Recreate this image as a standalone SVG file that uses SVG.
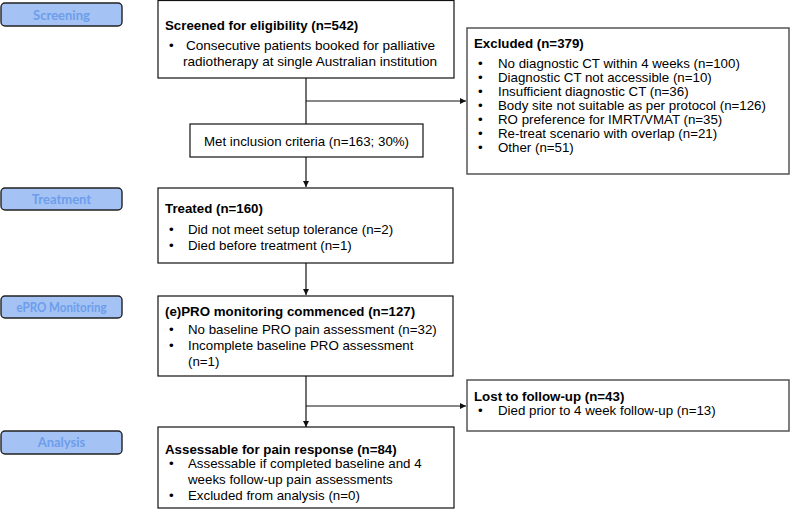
<svg xmlns="http://www.w3.org/2000/svg" width="790" height="509" viewBox="0 0 790 509">
<style>
.phase rect{fill:#a4c2f4;stroke:#222;stroke-width:1.4}
.phase text{font-family:Lato,"Open Sans",sans-serif;font-weight:bold;font-size:13px;fill:#6d9eeb;text-anchor:middle}
.box rect{fill:#fff;stroke:#111;stroke-width:1.2}
.gbox rect{fill:#fff;stroke:#555;stroke-width:1.5}
text{font-family:"Liberation Sans",Arial,sans-serif;font-size:13.3px;fill:#000}
.t{font-weight:bold}
.c{text-anchor:middle}
.s{font-size:13.6px}
.conn line{stroke:#111;stroke-width:1.2}
</style>
<defs>
<marker id="ah" markerWidth="8" markerHeight="8" refX="6" refY="3" orient="auto" markerUnits="userSpaceOnUse">
<path d="M0,0 L6,3 L0,6 Z" fill="#111"/>
</marker>
</defs>
<g id="phase-screening" class="phase"><rect x="1" y="3" width="121" height="23" rx="4"/><text x="61.5" y="19.5">Screening</text></g>
<g id="phase-treatment" class="phase"><rect x="1" y="188" width="121" height="22" rx="4"/><text x="61.5" y="203.5">Treatment</text></g>
<g id="phase-epro" class="phase"><rect x="1" y="296" width="121" height="22" rx="4"/><text x="61.5" y="311.5" textLength="90" lengthAdjust="spacingAndGlyphs">ePRO Monitoring</text></g>
<g id="phase-analysis" class="phase"><rect x="1" y="431" width="121" height="23" rx="4"/><text x="61.5" y="447">Analysis</text></g>

<g id="connectors" class="conn">
<line x1="306" y1="78" x2="306" y2="124"/>
<line x1="306" y1="101" x2="466" y2="101" marker-end="url(#ah)"/>
<line x1="306" y1="157" x2="306" y2="187" marker-end="url(#ah)"/>
<line x1="306" y1="263" x2="306" y2="295" marker-end="url(#ah)"/>
<line x1="306" y1="376" x2="306" y2="427" marker-end="url(#ah)"/>
<line x1="306" y1="406" x2="466" y2="406" marker-end="url(#ah)"/>
</g>

<g id="screened" class="box"><rect x="158" y="0.5" width="296" height="77.5"/>
<text x="165" y="30" class="t">Screened for eligibility (n=542)</text>
<text x="169" y="50">•</text><text x="186" y="50" class="s" textLength="249" lengthAdjust="spacing">Consecutive patients booked for palliative</text>
<text x="183" y="66" class="s" textLength="254" lengthAdjust="spacing">radiotherapy at single Australian institution</text></g>

<g id="met" class="box"><rect x="190" y="124" width="233" height="33"/>
<text x="306.5" y="145.5" class="c">Met inclusion criteria (n=163; 30%)</text></g>

<g id="excluded" class="gbox"><rect x="467" y="28" width="322" height="146"/>
<text x="474" y="48" class="t">Excluded (n=379)</text>
<text x="478" y="68">•</text><text x="498" y="68">No diagnostic CT within 4 weeks (n=100)</text>
<text x="478" y="82">•</text><text x="498" y="82">Diagnostic CT not accessible (n=10)</text>
<text x="478" y="96">•</text><text x="498" y="96">Insufficient diagnostic CT (n=36)</text>
<text x="478" y="110">•</text><text x="498" y="110">Body site not suitable as per protocol (n=126)</text>
<text x="478" y="124">•</text><text x="498" y="124">RO preference for IMRT/VMAT (n=35)</text>
<text x="478" y="138">•</text><text x="498" y="138">Re-treat scenario with overlap (n=21)</text>
<text x="478" y="152">•</text><text x="498" y="152">Other (n=51)</text></g>

<g id="treated" class="box"><rect x="158" y="188" width="295" height="75"/>
<text x="165" y="213" class="t">Treated (n=160)</text>
<text x="169" y="234">•</text><text x="188" y="234">Did not meet setup tolerance (n=2)</text>
<text x="169" y="250">•</text><text x="188" y="250">Died before treatment (n=1)</text></g>

<g id="epro" class="box"><rect x="158" y="296" width="295" height="80"/>
<text x="165" y="316" class="t">(e)PRO monitoring commenced (n=127)</text>
<text x="169" y="334">•</text><text x="188" y="334">No baseline PRO pain assessment (n=32)</text>
<text x="169" y="350">•</text><text x="188" y="350">Incomplete baseline PRO assessment</text>
<text x="188" y="366">(n=1)</text></g>

<g id="lost" class="gbox"><rect x="467" y="380" width="322" height="51"/>
<text x="474" y="401" class="t">Lost to follow-up (n=43)</text>
<text x="478" y="415">•</text><text x="498" y="415">Died prior to 4 week follow-up (n=13)</text></g>

<g id="assessable" class="box"><rect x="158" y="427" width="296" height="81"/>
<text x="165" y="454" class="t">Assessable for pain response (n=84)</text>
<text x="169" y="468">•</text><text x="188" y="468">Assessable if completed baseline and 4</text>
<text x="188" y="484">weeks follow-up pain assessments</text>
<text x="169" y="500">•</text><text x="188" y="500">Excluded from analysis (n=0)</text></g>
</svg>
